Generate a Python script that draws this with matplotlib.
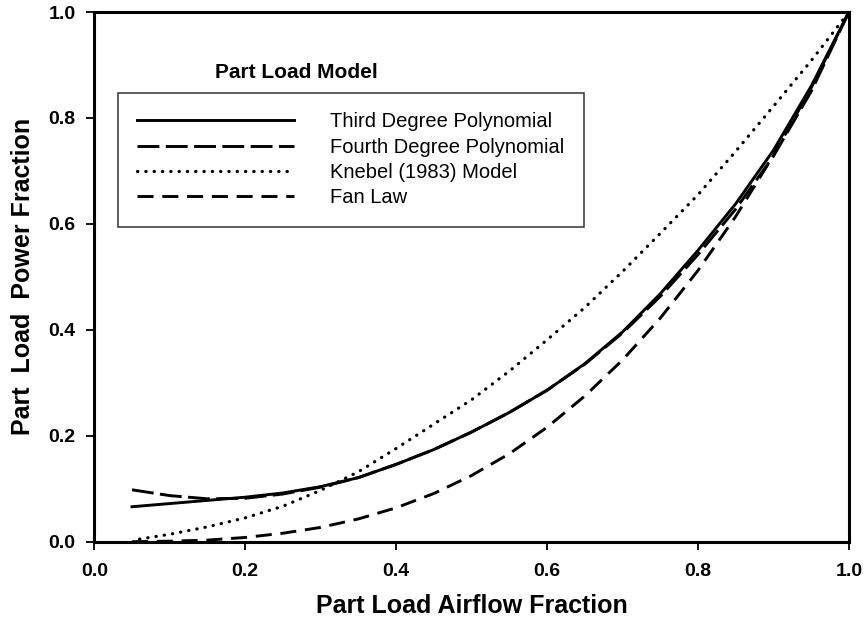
import matplotlib
matplotlib.use("Agg")
import matplotlib.pyplot as plt

plt.rcParams['font.family'] = ['Liberation Sans', 'DejaVu Sans']

# Data
x_third = [0.05, 0.10, 0.15, 0.20, 0.25, 0.30, 0.35, 0.40, 0.45, 0.50,
           0.55, 0.60, 0.65, 0.70, 0.75, 0.80, 0.85, 0.90, 0.95, 1.00]
y_third = [0.066, 0.072, 0.078, 0.084, 0.092, 0.104, 0.121, 0.146, 0.174, 0.207,
           0.244, 0.286, 0.336, 0.396, 0.468, 0.550, 0.638, 0.739, 0.860, 1.000]

x_fourth = [0.05, 0.10, 0.15, 0.20, 0.25, 0.30, 0.35, 0.40, 0.45, 0.50,
            0.55, 0.60, 0.65, 0.70, 0.75, 0.80, 0.85, 0.90, 0.95, 1.00]
y_fourth = [0.098, 0.087, 0.081, 0.082, 0.090, 0.103, 0.121, 0.146, 0.174, 0.207,
            0.244, 0.286, 0.335, 0.394, 0.463, 0.542, 0.628, 0.728, 0.850, 1.000]

x_knebel = [0.06, 0.10, 0.15, 0.20, 0.25, 0.30, 0.35, 0.40, 0.45, 0.50,
            0.55, 0.60, 0.65, 0.70, 0.75, 0.80, 0.85, 0.90, 0.95, 1.00]
y_knebel = [0.005, 0.014, 0.028, 0.045, 0.067, 0.097, 0.132, 0.176, 0.222, 0.268,
            0.322, 0.381, 0.442, 0.510, 0.582, 0.655, 0.737, 0.822, 0.908, 1.000]

x_fan = [0.05, 0.10, 0.15, 0.20, 0.25, 0.30, 0.35, 0.40, 0.45, 0.50,
         0.55, 0.60, 0.65, 0.70, 0.75, 0.80, 0.85, 0.90, 0.95, 1.00]
y_fan = [0.000, 0.001, 0.003, 0.008, 0.016, 0.027, 0.043, 0.064, 0.091, 0.125,
         0.166, 0.216, 0.275, 0.343, 0.422, 0.512, 0.614, 0.729, 0.857, 1.000]

labels = ["Third Degree Polynomial", "Fourth Degree Polynomial",
          "Knebel (1983) Model", "Fan Law"]
ticks = [0.0, 0.2, 0.4, 0.6, 0.8, 1.0]
tick_labels = ["0.0", "0.2", "0.4", "0.6", "0.8", "1.0"]

fig = plt.figure(figsize=(8.68, 6.22), dpi=100)
ax = fig.add_axes([0.1086, 0.1291, 0.9780 - 0.1086, 0.9807 - 0.1291])

lw = 2.1
ax.plot(x_third, y_third, color='black', lw=lw, linestyle='-', label=labels[0])
ax.plot(x_fourth, y_fourth, color='black', lw=lw, linestyle=(0, (7.5, 2.2)), label=labels[1])
ax.plot(x_knebel, y_knebel, color='black', lw=2.3, linestyle=(0, (0.1, 2.5)),
        dash_capstyle='round', label=labels[2])
ax.plot(x_fan, y_fan, color='black', lw=lw, linestyle=(0, (5.5, 3.0)), label=labels[3])

ax.set_xlim(0, 1)
ax.set_ylim(0, 1)
ax.set_xticks(ticks)
ax.set_xticklabels(tick_labels)
ax.set_yticks(ticks)
ax.set_yticklabels(tick_labels)
for s in ax.spines.values():
    s.set_linewidth(2.2)
    s.set_color('black')
ax.tick_params(axis='both', direction='out', length=5.5, width=1.3, labelsize=14)
ax.tick_params(axis='x', pad=10)
ax.tick_params(axis='y', pad=8)
for t in ax.get_xticklabels() + ax.get_yticklabels():
    t.set_fontweight('bold')

ax.set_xlabel("Part Load Airflow Fraction", fontsize=18, fontweight='bold', labelpad=10)
ax.set_ylabel("Part  Load  Power Fraction", fontsize=18, fontweight='bold', labelpad=10)

fig.text(215 / 868, 1 - 72 / 622, "Part Load Model", fontsize=15, fontweight='bold',
         ha='left', va='center')

leg = ax.legend(loc='upper left', bbox_to_anchor=(118 / 868, 1 - 93 / 622),
                bbox_transform=fig.transFigure, fontsize=14.5, frameon=True,
                fancybox=False, handlelength=7.8, handletextpad=1.8,
                labelspacing=0.32, borderpad=0.95, borderaxespad=0)
leg.get_frame().set_edgecolor('black')
leg.get_frame().set_linewidth(1.1)

fig.savefig("out.png", dpi=100)
